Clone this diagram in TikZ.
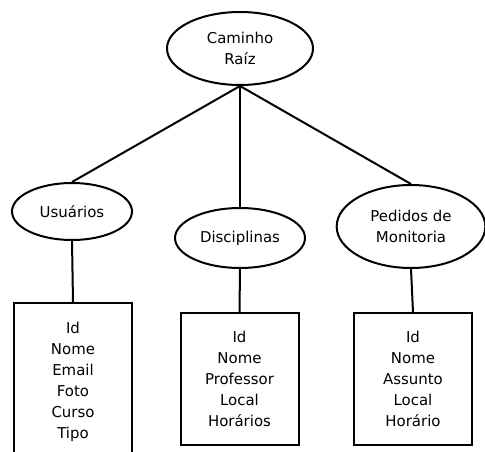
\documentclass[tikz,border=0pt]{standalone}
\usepackage{fontspec}
\setmainfont{DejaVu Sans}
\usetikzlibrary{shapes}

\begin{document}
\begin{tikzpicture}[x=0.75pt, y=-0.75pt, line width=1.5pt,
        every node/.style={font=\fontsize{11.2}{15.75}\selectfont},
        entity/.style={draw, ellipse, align=center, inner sep=0pt},
        fields/.style={draw, rectangle, align=center, minimum width=88.5pt}]
        \clip (0,0) rectangle (485,452);
        % Root
        \node[entity, minimum width=109.5pt, minimum height=54.75pt] (root) at (240,48.5) {Caminho\\Raíz};
        
        % Collections
        \node[entity, minimum width=90pt, minimum height=42.75pt] (users) at (72,211.5) {Usuários};
        \node[entity, minimum width=97.5pt, minimum height=45pt] (subjects) at (240,238) {Disciplinas};
        \node[entity, minimum width=111.5pt, minimum height=62.25pt] (requests) at (411,226.5) {Pedidos de\\Monitoria};
        
        % Fields
        \node[fields, minimum height=118.5pt] (userfields) at (73,382) {Id\\Nome\\Email\\Foto\\Curso\\Tipo};
        \node[fields, minimum height=99pt] (subjectfields) at (239.5,379) {Id\\Nome\\Professor\\Local\\Horários};
        \node[fields, minimum height=99pt] (requestfields) at (413,379) {Id\\Nome\\Assunto\\Local\\Horário};
        
        % Edges
        \draw (root.south) -- (users.north);
        \draw (root.south) -- (subjects.north);
        \draw (root.south) -- (requests.north);
        \draw (users.south) -- (userfields.north);
        \draw (subjects.south) -- (subjectfields.north);
        \draw (requests.south) -- (requestfields.north);
    \end{tikzpicture}
\end{document}
